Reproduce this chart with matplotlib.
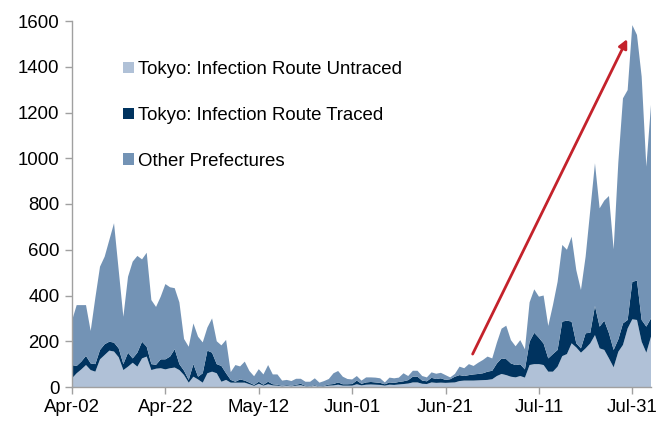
import numpy as np
import matplotlib
matplotlib.use("Agg")
import matplotlib.pyplot as plt
from matplotlib.patches import Patch

plt.rcParams['font.family'] = ['Liberation Sans', 'DejaVu Sans']

# Daily totals (all Japan), Tokyo totals and Tokyo untraced, Apr-02 .. Aug-04
total = [290, 358, 358, 358, 245, 390, 526, 570, 643, 716,
         511, 307, 482, 548, 573, 558, 587, 380, 350, 395,
         450, 436, 432, 370, 210, 176, 278, 220, 195, 260,
         300, 200, 182, 206, 65, 96, 90, 111, 70, 47,
         78, 55, 96, 55, 55, 28, 31, 26, 36, 36,
         23, 23, 38, 19, 26, 35, 60, 70, 45, 35,
         33, 48, 28, 42, 42, 41, 38, 20, 41, 38,
         41, 60, 48, 71, 71, 48, 42, 64, 58, 62,
         52, 42, 57, 89, 82, 100, 92, 106, 118, 133,
         125, 194, 255, 268, 205, 178, 205, 165, 370, 427,
         395, 400, 267, 358, 460, 621, 600, 657, 511, 424,
         570, 774, 978, 781, 815, 835, 602, 981, 1262, 1298,
         1582, 1539, 1357, 963, 1233]
tokyo_total = [96, 92, 111, 136, 103, 100, 162, 187, 198, 194,
               169, 100, 150, 125, 150, 198, 176, 100, 97, 121,
               121, 133, 165, 100, 71, 31, 100, 45, 60, 159,
               150, 100, 92, 60, 31, 23, 33, 28, 19, 9,
               23, 10, 23, 12, 10, 5, 8, 5, 10, 14,
               5, 3, 8, 2, 5, 11, 13, 20, 12, 12,
               13, 28, 14, 20, 22, 20, 18, 12, 20, 18,
               22, 25, 30, 45, 45, 28, 25, 40, 35, 38,
               31, 34, 45, 52, 48, 52, 55, 57, 60, 67,
               71, 103, 125, 122, 103, 96, 99, 77, 198, 237,
               215, 190, 125, 144, 162, 286, 290, 286, 191, 169,
               235, 237, 354, 264, 290, 235, 162, 208, 278, 293,
               460, 465, 293, 264, 300]
untraced = [38, 60, 77, 96, 74, 67, 121, 140, 159, 155,
            130, 74, 89, 106, 89, 125, 133, 74, 80, 82,
            77, 82, 85, 74, 52, 19, 45, 33, 19, 60,
            67, 60, 23, 31, 19, 19, 19, 19, 12, 5,
            14, 6, 12, 7, 6, 3, 5, 3, 6, 8,
            3, 2, 5, 1, 3, 6, 7, 10, 6, 6,
            6, 12, 7, 10, 11, 10, 9, 6, 10, 9,
            11, 13, 15, 20, 20, 14, 13, 20, 18, 19,
            18, 19, 20, 26, 28, 28, 28, 29, 30, 31,
            34, 48, 57, 52, 45, 42, 48, 41, 96, 100,
            100, 96, 67, 67, 89, 135, 144, 191, 173, 150,
            169, 191, 227, 169, 162, 125, 86, 154, 184, 256,
            296, 293, 198, 150, 220]

tick_days = [0, 20, 40, 60, 80, 100, 120]
tick_labels = ['Apr-02', 'Apr-22', 'May-12', 'Jun-01', 'Jun-21', 'Jul-11', 'Jul-31']
series_names = ['Tokyo: Infection Route Untraced',
                'Tokyo: Infection Route Traced',
                'Other Prefectures']
colors = ['#B0C1D7', '#00335F', '#7393B5']

# arrow annotation (day, value)
arrow_start = (85.8, 144)
arrow_end = (118.9, 1521)

total = np.array(total, float)
tokyo_total = np.array(tokyo_total, float)
untraced = np.array(untraced, float)
traced = np.clip(tokyo_total - untraced, 0, None)
other = np.clip(total - tokyo_total, 0, None)
days = np.arange(len(total))

fig = plt.figure(figsize=(6.72, 4.22), dpi=100)
ax = fig.add_axes([72/672, 1 - 387/422, (651-72)/672, (387-21)/422])

ax.stackplot(days, untraced, traced, other, colors=colors, linewidth=0)

ax.set_xlim(0, len(total) - 1)
ax.set_ylim(0, 1600)
ax.set_yticks(np.arange(0, 1601, 200))
ax.set_xticks(tick_days)
ax.set_xticklabels(tick_labels)

for s in ['top', 'right']:
    ax.spines[s].set_visible(False)
for s in ['left', 'bottom']:
    ax.spines[s].set_color('#A0A0A0')
    ax.spines[s].set_linewidth(1.0)
ax.tick_params(axis='both', direction='out', length=5, width=1.0,
               color='#A0A0A0', labelsize=13.4, labelcolor='black')
ax.tick_params(axis='y', pad=4)
ax.tick_params(axis='x', pad=4)

ax.annotate('', xy=arrow_end, xytext=arrow_start,
            arrowprops=dict(arrowstyle='-|>', color='#C4222B', lw=2.0,
                            mutation_scale=13, shrinkA=0, shrinkB=0))

handles = [Patch(facecolor=c, edgecolor='none') for c in colors]
leg = ax.legend(handles, series_names, loc='upper left',
                bbox_to_anchor=(51/579, (387-61)/366),
                frameon=False, fontsize=13.4, handlelength=0.6,
                handleheight=0.56, handletextpad=0.22, labelspacing=1.55,
                borderaxespad=0, borderpad=0)

fig.savefig('out.png', dpi=100)
